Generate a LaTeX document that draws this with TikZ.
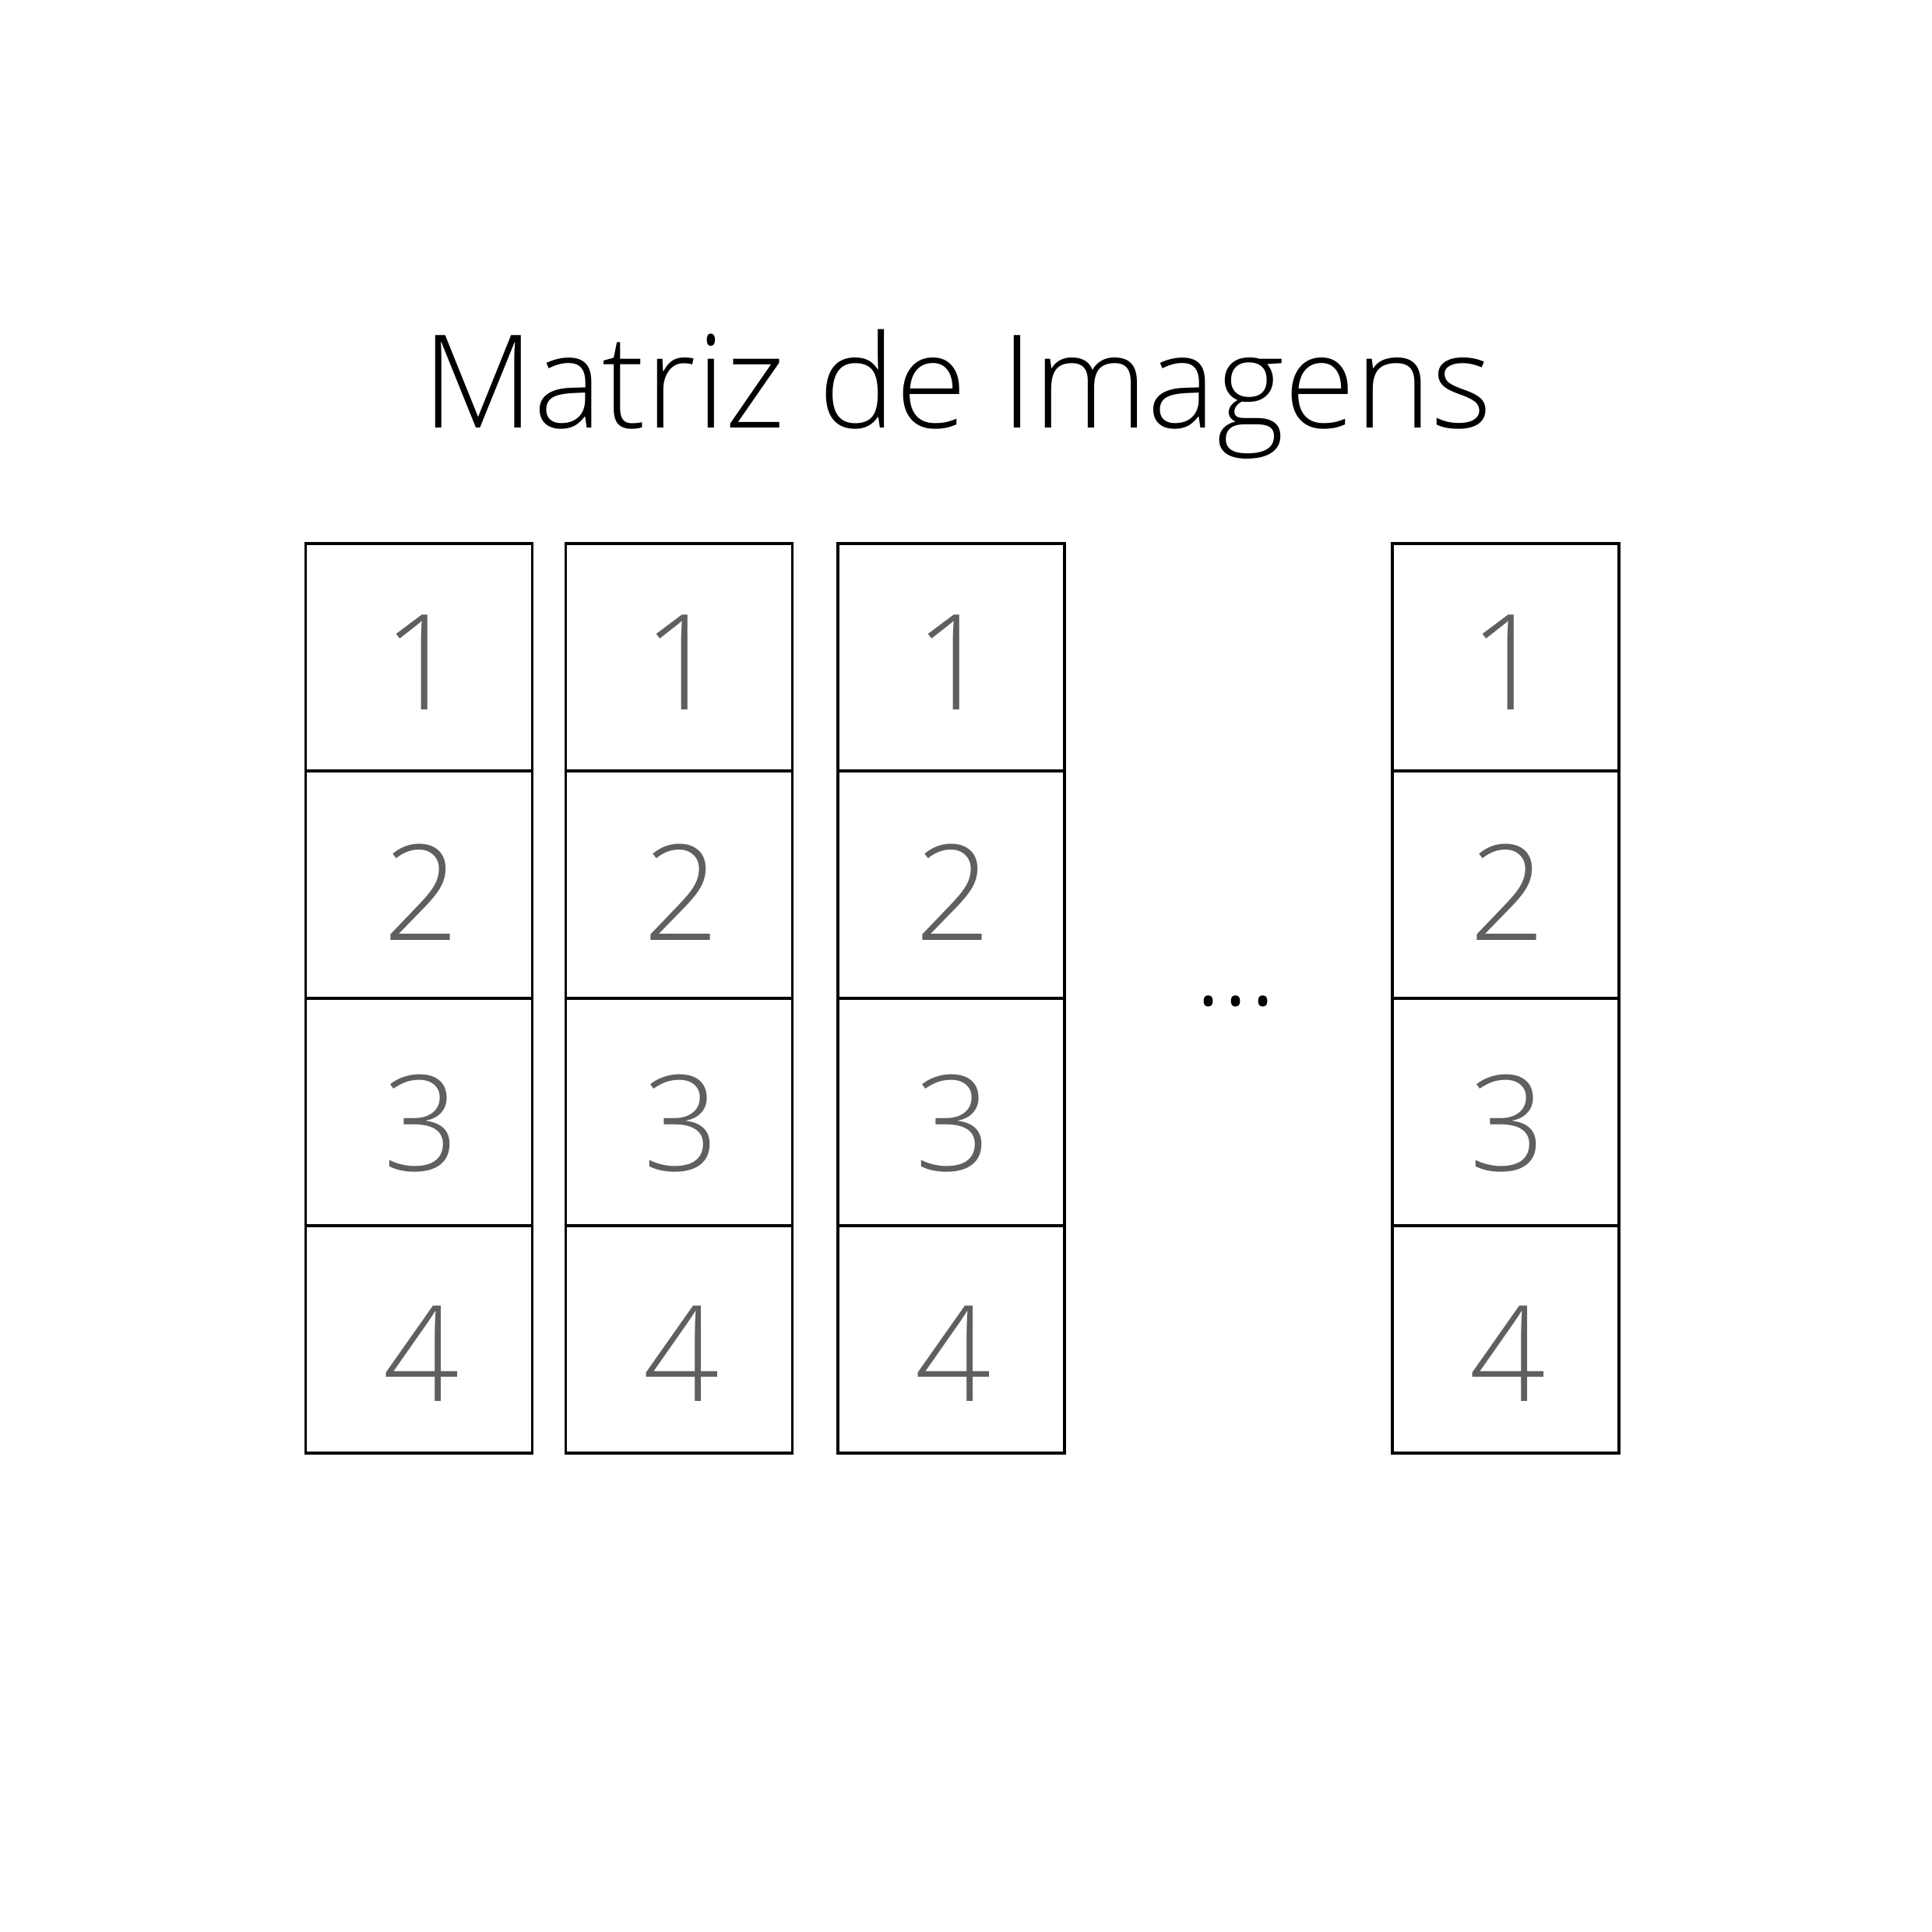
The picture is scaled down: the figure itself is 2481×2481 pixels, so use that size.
\documentclass[tikz,border=0pt]{standalone}
\usepackage{fontspec}
\setmainfont{Open Sans}[UprightFont={* Light}]
\definecolor{digitgray}{HTML}{5F5F5F}
\begin{document}
\begin{tikzpicture}[x=0.01cm,y=-0.01cm,
  cellbox/.style={draw=black,line width=1pt,minimum width=2.91cm,minimum height=2.92cm,inner sep=0pt,outer sep=0pt,anchor=north west},
  digit/.style={text=digitgray,font=\fontsize{48.5}{50}\selectfont,anchor=base,inner sep=0pt},
  titlestyle/.style={font=\fontsize{47.3}{50}\selectfont,anchor=base,inner sep=0pt}]
\useasboundingbox[fill=white] (0,0) rectangle (2481,2481);
\node[titlestyle] (title) at (1229,549) {Matriz de Imagens};
\foreach \c/\x in {a/392.4,b/726.3,c/1076,d/1788}{
  \foreach \r/\b in {1/911.5,2/1207.5,3/1503,4/1799}{
    \node[cellbox] (\c\r) at (\x,{697.8+(\r-1)*292}) {};
    \node[digit] (\c\r t) at ([xshift=0.03cm]\c\r.center |- 0,\b) {\r};
  }
}
\node[font=\fontsize{42}{44}\selectfont,anchor=base,inner sep=0pt] (dots) at (1587,1291) {...};
\end{tikzpicture}
\end{document}
